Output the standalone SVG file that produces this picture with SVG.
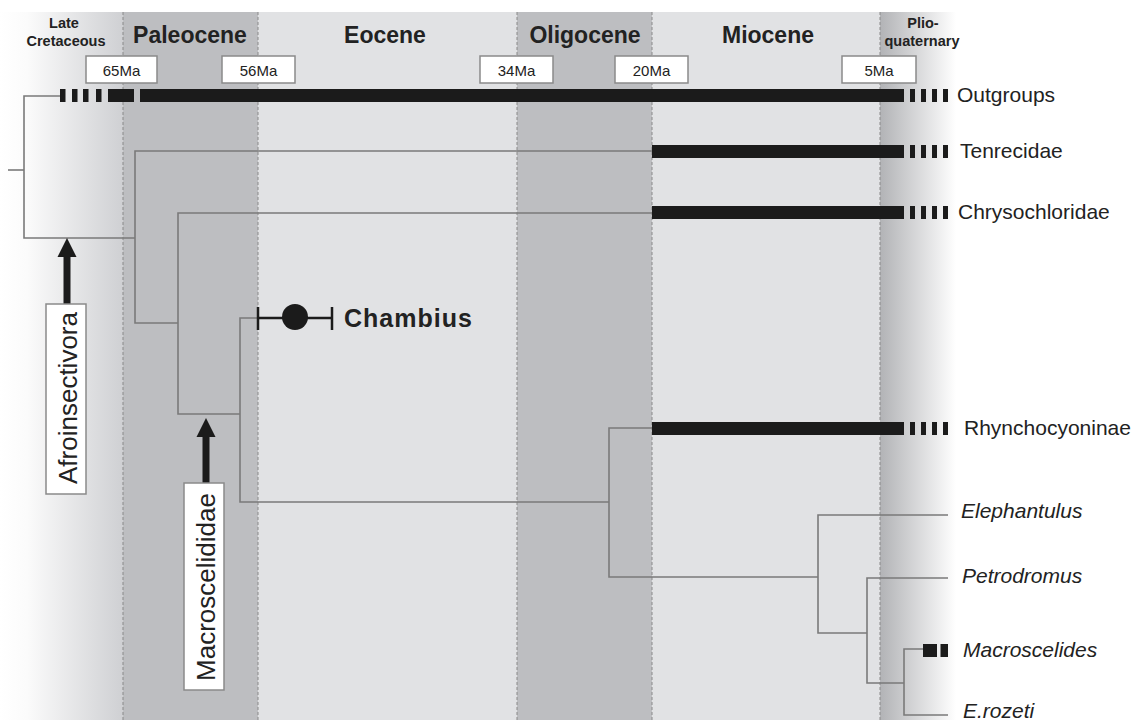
<svg xmlns="http://www.w3.org/2000/svg" width="1141" height="720" viewBox="0 0 1141 720">
<defs>
<linearGradient id="gCret" x1="0" y1="0" x2="1" y2="0">
<stop offset="0" stop-color="#ffffff"/>
<stop offset="0.22" stop-color="#fbfbfb"/>
<stop offset="1" stop-color="#cfd0d3"/>
</linearGradient>
<linearGradient id="gPlio" x1="0" y1="0" x2="1" y2="0">
<stop offset="0" stop-color="#b2b3b6"/>
<stop offset="1" stop-color="#ffffff"/>
</linearGradient>
<style>
.dark{fill:#bdbec1}
.light{fill:#e1e2e4}
.div{stroke:#8a8a8a;stroke-width:1;stroke-dasharray:3 2;fill:none}
.per{font-family:"Liberation Sans",Arial,sans-serif;font-weight:bold;font-size:23px;fill:#222;text-anchor:middle}
.per2{font-family:"Liberation Sans",Arial,sans-serif;font-weight:bold;font-size:14.5px;fill:#222;text-anchor:middle}
.date rect{fill:#fff;stroke:#8a8a8a;stroke-width:1.5}
.date text{font-family:"Liberation Sans",Arial,sans-serif;font-size:15px;fill:#222;text-anchor:middle}
.tree{stroke:#7a7a7a;stroke-width:1.6;fill:none}
.bar{fill:#1b1b1b}
.tax{font-family:"Liberation Sans",Arial,sans-serif;font-size:21px;fill:#222}
.ital{font-family:"Liberation Sans",Arial,sans-serif;font-size:21px;font-style:italic;fill:#222}
.lbox{fill:#fff;stroke:#8a8a8a;stroke-width:1.5}
.ltxt{font-family:"Liberation Sans",Arial,sans-serif;font-size:26px;fill:#222;text-anchor:middle}
.arrow{stroke:#1b1b1b;stroke-width:7;fill:none}
.head{fill:#1b1b1b}
</style>
</defs>
<rect x="0" y="0" width="1141" height="720" fill="#ffffff"/>
<g id="background">
<rect x="0" y="12" width="123" height="708" fill="url(#gCret)"/>
<rect class="dark" x="123" y="12" width="135" height="708"/>
<rect class="light" x="258" y="12" width="259" height="708"/>
<rect class="dark" x="517" y="12" width="135" height="708"/>
<rect class="light" x="652" y="12" width="228" height="708"/>
<rect x="880" y="12" width="76" height="708" fill="url(#gPlio)"/>
<line class="div" x1="123" y1="12" x2="123" y2="720"/>
<line class="div" x1="258" y1="12" x2="258" y2="720"/>
<line class="div" x1="517" y1="12" x2="517" y2="720"/>
<line class="div" x1="652" y1="12" x2="652" y2="720"/>
<line class="div" x1="880" y1="12" x2="880" y2="720"/>
</g>
<g id="periods">
<text class="per2" x="64" y="28">Late</text>
<text class="per2" x="66" y="46">Cretaceous</text>
<text class="per" x="190" y="43">Paleocene</text>
<text class="per" x="385" y="43">Eocene</text>
<text class="per" x="585" y="43">Oligocene</text>
<text class="per" x="768" y="43">Miocene</text>
<text class="per2" x="923" y="28">Plio-</text>
<text class="per2" x="922" y="46">quaternary</text>
</g>
<g id="dates" class="date">
<rect x="86" y="56" width="71" height="27"/><text x="121.5" y="76">65Ma</text>
<rect x="222" y="56" width="73" height="27"/><text x="258.5" y="76">56Ma</text>
<rect x="480" y="56" width="73" height="27"/><text x="516.5" y="76">34Ma</text>
<rect x="615" y="56" width="73" height="27"/><text x="651.5" y="76">20Ma</text>
<rect x="842" y="56" width="74" height="27"/><text x="879" y="76">5Ma</text>
</g>
<g id="connectors" class="tree">
<path d="M8,170 H24"/>
<path d="M60,96 H24 V238 H135"/>
<path d="M652,151 H135 V323 H178"/>
<path d="M652,213 H178 V414 H240"/>
<path d="M258,318 H240 V502 H609"/>
<path d="M652,428 H609 V577 H818"/>
<path d="M948,515 H818 V633 H867"/>
<path d="M948,578 H867 V683 H904"/>
<path d="M923,649 H904 V715 H948"/>
<line class="arrow" x1="67" y1="304" x2="67" y2="254"/>
<polygon class="head" points="57.5,257 76.5,257 67,238" style="stroke:none"/>
<line class="arrow" x1="206" y1="483" x2="206" y2="434"/>
<polygon class="head" points="196.5,437 215.5,437 206,418" style="stroke:none"/>
</g>
<g id="outgroups">
<rect class="bar" x="60" y="89" width="5.5" height="13"/>
<rect class="bar" x="72" y="89" width="5.5" height="13"/>
<rect class="bar" x="83" y="89" width="5.5" height="13"/>
<rect class="bar" x="96" y="89" width="5.5" height="13"/>
<rect class="bar" x="108" y="89" width="26" height="13"/>
<rect class="bar" x="140" y="89" width="764" height="13"/>
<rect class="bar" x="910" y="89" width="5" height="13"/>
<rect class="bar" x="921" y="89" width="5" height="13"/>
<rect class="bar" x="932" y="89" width="5" height="13"/>
<rect class="bar" x="943" y="89" width="5" height="13"/>
<text class="tax" x="957" y="102">Outgroups</text>
</g>
<g id="tenrecidae">
<rect class="bar" x="652" y="145" width="252" height="13"/>
<rect class="bar" x="910" y="145" width="5" height="13"/>
<rect class="bar" x="921" y="145" width="5" height="13"/>
<rect class="bar" x="932" y="145" width="5" height="13"/>
<rect class="bar" x="943" y="145" width="5" height="13"/>
<text class="tax" x="960" y="158">Tenrecidae</text>
</g>
<g id="chrysochloridae">
<rect class="bar" x="652" y="206" width="252" height="13"/>
<rect class="bar" x="910" y="206" width="5" height="13"/>
<rect class="bar" x="921" y="206" width="5" height="13"/>
<rect class="bar" x="932" y="206" width="5" height="13"/>
<rect class="bar" x="943" y="206" width="5" height="13"/>
<text class="tax" x="958" y="219">Chrysochloridae</text>
</g>
<g id="rhynchocyoninae">
<rect class="bar" x="652" y="422" width="252" height="13"/>
<rect class="bar" x="910" y="422" width="5" height="13"/>
<rect class="bar" x="921" y="422" width="5" height="13"/>
<rect class="bar" x="932" y="422" width="5" height="13"/>
<rect class="bar" x="943" y="422" width="5" height="13"/>
<text class="tax" x="964" y="435">Rhynchocyoninae</text>
</g>
<g id="chambius">
<line x1="258" y1="307" x2="258" y2="330" stroke="#1b1b1b" stroke-width="2.5"/>
<line x1="258" y1="318" x2="332" y2="318" stroke="#1b1b1b" stroke-width="2.5"/>
<line x1="332" y1="307" x2="332" y2="330" stroke="#1b1b1b" stroke-width="2.5"/>
<circle cx="295" cy="317" r="13" fill="#1b1b1b"/>
<text x="344" y="327" font-family="'Liberation Sans',Arial,sans-serif" font-weight="bold" font-size="25" letter-spacing="1" fill="#222">Chambius</text>
</g>
<g id="elephantulus"><text class="ital" x="961" y="518">Elephantulus</text></g>
<g id="petrodromus"><text class="ital" x="962" y="583">Petrodromus</text></g>
<g id="macroscelides">
<rect class="bar" x="923" y="644" width="14" height="13"/>
<rect class="bar" x="940.5" y="644" width="7.5" height="13"/>
<text class="ital" x="963" y="657">Macroscelides</text>
</g>
<g id="erozeti"><text class="ital" x="963" y="718">E.rozeti</text></g>
<g id="afroinsectivora">
<rect class="lbox" x="46" y="304" width="40" height="190"/>
<text class="ltxt" transform="translate(77,398) rotate(-90)">Afroinsectivora</text>
</g>
<g id="macroscelididae">
<rect class="lbox" x="184" y="483" width="40" height="207"/>
<text class="ltxt" transform="translate(215,587) rotate(-90)">Macroscelididae</text>
</g>
</svg>
